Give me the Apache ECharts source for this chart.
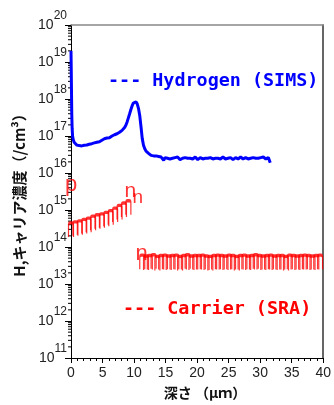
<!DOCTYPE html>
<html>
<head>
<meta charset="utf-8">
<script src="https://cdn.jsdelivr.net/npm/echarts@6/dist/echarts.min.js"></script>
<style>
  html, body { margin: 0; padding: 0; background: #fff; }
  #chart { width: 334px; height: 405px; }
</style>
</head>
<body>
<div id="chart"></div>
<script>
// Hydrogen concentration by SIMS: [depth (um), concentration (/cm3)]
const hydrogenProfile = [
  [0.00, 2.0e19], [0.04, 6e18], [0.08, 1.5e18], [0.12, 4e17], [0.18, 1.6e17], [0.25, 1.0e17],
  [0.35, 8.0e16], [0.5, 6.8e16], [0.7, 6.2e16], [0.9, 5.7e16], [1.1, 5.9e16], [1.3, 5.5e16],
  [1.5, 5.8e16], [1.7, 5.4e16], [1.9, 5.9e16], [2.1, 5.6e16], [2.3, 6.0e16], [2.5, 5.7e16],
  [2.7, 6.1e16], [2.9, 6.0e16], [3.1, 6.4e16], [3.3, 6.2e16], [3.5, 6.6e16], [3.7, 6.5e16],
  [3.9, 6.9e16], [4.1, 6.8e16], [4.3, 7.2e16], [4.5, 7.0e16], [4.7, 7.5e16], [4.9, 7.7e16],
  [5.1, 8.0e16], [5.3, 8.4e16], [5.5, 8.2e16], [5.7, 8.8e16], [5.9, 9.1e16], [6.1, 9.0e16],
  [6.3, 9.6e16], [6.5, 1.0e17], [6.7, 1.04e17], [6.9, 1.08e17], [7.1, 1.12e17], [7.3, 1.15e17],
  [7.5, 1.2e17], [7.7, 1.26e17], [7.9, 1.34e17], [8.1, 1.42e17], [8.3, 1.55e17], [8.5, 1.7e17],
  [8.7, 1.95e17], [8.9, 2.4e17], [9.1, 3.1e17], [9.3, 4.0e17], [9.5, 5.2e17], [9.7, 6.6e17],
  [9.9, 7.8e17], [10.1, 8.5e17], [10.3, 8.4e17], [10.5, 7.4e17], [10.7, 5.6e17], [10.9, 3.6e17],
  [11.1, 1.8e17], [11.3, 8.5e16], [11.5, 5.6e16], [11.7, 4.5e16], [11.9, 3.9e16], [12.1, 3.6e16],
  [12.3, 3.4e16], [12.5, 3.3e16], [12.7, 3.0e16], [12.9, 3.1e16], [13.1, 2.9e16], [13.3, 2.8e16],
  [13.5, 2.9e16], [13.7, 2.7e16], [13.9, 2.8e16], [14.1, 2.6e16], [14.3, 2.7e16], [14.5, 2.5e16],
  [14.7, 2.2e16], [14.9, 2.6e16], [15.1, 2.6e16], [15.3, 2.5e16], [15.5, 2.7e16], [15.7, 2.4e16],
  [15.9, 2.6e16], [16.1, 2.5e16], [16.3, 2.4e16], [16.5, 2.6e16], [16.7, 2.5e16], [16.9, 2.7e16],
  [17.1, 2.5e16], [17.3, 2.3e16], [17.5, 2.6e16], [17.7, 2.5e16], [17.9, 2.4e16], [18.1, 2.6e16],
  [18.3, 2.7e16], [18.5, 2.5e16], [18.7, 2.4e16], [18.9, 2.5e16], [19.1, 2.6e16], [19.3, 2.4e16],
  [19.5, 2.5e16], [19.7, 2.7e16], [19.9, 2.5e16], [20.1, 2.3e16], [20.3, 2.5e16], [20.5, 2.6e16],
  [20.7, 2.5e16], [20.9, 2.4e16], [21.1, 2.6e16], [21.3, 2.5e16], [21.5, 2.7e16], [21.7, 2.5e16],
  [21.9, 2.4e16], [22.1, 2.6e16], [22.3, 2.5e16], [22.5, 2.4e16], [22.7, 2.6e16], [22.9, 2.5e16],
  [23.1, 2.3e16], [23.3, 2.5e16], [23.5, 2.6e16], [23.7, 2.4e16], [23.9, 2.5e16], [24.1, 2.7e16],
  [24.3, 2.5e16], [24.5, 2.4e16], [24.7, 2.6e16], [24.9, 2.5e16], [25.1, 2.5e16], [25.3, 2.6e16],
  [25.5, 2.4e16], [25.7, 2.3e16], [25.9, 2.5e16], [26.1, 2.6e16], [26.3, 2.5e16], [26.5, 2.4e16],
  [26.7, 2.6e16], [26.9, 2.7e16], [27.1, 2.5e16], [27.3, 2.4e16], [27.5, 2.5e16], [27.7, 2.6e16],
  [27.9, 2.5e16], [28.1, 2.4e16], [28.3, 2.6e16], [28.5, 2.5e16], [28.7, 2.7e16], [28.9, 2.6e16],
  [29.1, 2.4e16], [29.3, 2.5e16], [29.5, 2.6e16], [29.7, 2.5e16], [29.9, 2.4e16], [30.1, 2.6e16],
  [30.3, 2.5e16], [30.5, 2.7e16], [30.7, 2.6e16], [30.9, 2.4e16], [31.1, 2.5e16], [31.3, 2.6e16],
  [31.5, 2.4e16], [31.6, 1.9e16]
];

// Carrier concentration by SRA, p-type region near the surface
const carrierDepthP = [0.0, 0.7, 1.4, 2.1, 2.8, 3.5, 4.2, 4.9, 5.6, 6.3, 7.0, 7.7, 8.4, 9.1];
const carrierConcP = [2.9e14, 3.1e14, 3.3e14, 3.6e14, 3.9e14, 4.4e14, 4.8e14, 5.1e14, 5.6e14,
  6.2e14, 7.3e14, 8.6e14, 1.0e15, 1.15e15];

// Carrier concentration by SRA, n-type region below the hydrogen peak
const carrierDepthN = [11.3, 11.9, 12.5, 13.1, 13.7, 14.3, 14.9, 15.5, 16.1, 16.7, 17.3, 17.9,
  18.5, 19.1, 19.7, 20.3, 20.9, 21.5, 22.1, 22.7, 23.3, 23.9, 24.5, 25.1, 25.7, 26.3, 26.9, 27.5,
  28.1, 28.7, 29.3, 29.9, 30.5, 31.1, 31.7, 32.3, 32.9, 33.5, 34.1, 34.7, 35.3, 35.9, 36.5, 37.1,
  37.7, 38.3, 38.9, 39.5];
const carrierConcN = [3.9e13, 3.7e13, 3.8e13, 4.0e13, 3.6e13, 3.8e13, 3.9e13, 3.7e13, 3.8e13,
  3.9e13, 3.6e13, 3.8e13, 4.0e13, 3.7e13, 3.8e13, 3.8e13, 3.9e13, 3.7e13, 3.6e13, 3.8e13, 3.9e13,
  3.8e13, 3.7e13, 3.9e13, 3.8e13, 3.6e13, 3.8e13, 3.9e13, 3.7e13, 3.8e13, 4.0e13, 3.8e13, 3.7e13,
  3.8e13, 3.9e13, 3.7e13, 3.8e13, 3.8e13, 3.6e13, 3.9e13, 3.8e13, 3.7e13, 3.8e13, 3.9e13, 3.8e13,
  3.7e13, 3.8e13, 3.9e13];

// Conduction-type annotations: [depth, concentration, text, font size]
const typeMarks = [
  [0.0, 4.8e15, 'p', 22],
  [9.4, 3.3e15, 'n', 21],
  [10.6, 2.1e15, 'n', 19],
  [11.2, 6.5e13, 'n', 22]
];

const xTicks = [0, 5, 10, 15, 20, 25, 30, 35, 40];
const legendTexts = ['--- Hydrogen (SIMS)', '--- Carrier (SRA)'];

const chart = echarts.init(document.getElementById('chart'), null, { renderer: 'canvas' });

const tickFont = 'Liberation Sans, Arial, sans-serif';
const jpFont = '"Noto Sans CJK JP", sans-serif';
const monoFont = '"DejaVu Sans Mono", monospace';

// log minor ticks at 2..9 of every decade
const minorLogTicks = [];
for (let d = 11; d < 20; d++) {
  for (let k = 2; k <= 9; k++) minorLogTicks.push([0, k * Math.pow(10, d)]);
}

const glyphN = 'path://M0,16 L0,2 Q0,0 2,0 L4,0 Q6,0 6,2 L6,16';

const zip = (a, b) => a.map((v, i) => [v, b[i]]);

chart.setOption({
  animation: false,
  backgroundColor: '#fff',
  grid: { left: 71, right: 2, top: 25, bottom: 37 },
  xAxis: [{
    type: 'value', min: 0, max: 40, interval: 5,
    name: '深さ （μｍ）', nameLocation: 'middle', nameGap: 28,
    nameTextStyle: { fontFamily: jpFont, fontWeight: 'bold', fontSize: 14, color: '#111',
      padding: [0, 0, 0, 16] },
    axisLine: { onZero: false, lineStyle: { color: '#000', width: 1 } },
    axisTick: { length: 5, lineStyle: { color: '#000' } },
    minorTick: { show: true, splitNumber: 5, length: 3, lineStyle: { color: '#000' } },
    splitLine: { show: false },
    axisLabel: {
      margin: 8, fontFamily: tickFont, fontSize: 14, color: '#222',
      formatter: v => xTicks.indexOf(v) >= 0 ? String(v) : ''
    }
  }, {
    type: 'value', min: 0, max: 40, position: 'top',
    axisLine: { show: true, onZero: false, lineStyle: { color: '#888', width: 1.5 } },
    axisTick: { show: false }, axisLabel: { show: false }, splitLine: { show: false }
  }],
  yAxis: [{
    type: 'log', logBase: 10, min: 1e11, max: 1e20, interval: 1,
    name: 'H,キャリア濃度（/cm³）', nameLocation: 'middle', nameGap: 44,
    nameTextStyle: { fontFamily: jpFont, fontWeight: 'bold', fontSize: 15, color: '#111' },
    axisLine: { onZero: false, lineStyle: { color: '#000', width: 1 } },
    axisTick: { length: 6, lineStyle: { color: '#000' } },
    splitLine: { show: false },
    axisLabel: {
      margin: 4,
      formatter: v => '{b|10}{s|' + Math.round(Math.log10(v)) + '}',
      rich: {
        b: { fontFamily: tickFont, fontSize: 14, color: '#222', lineHeight: 30 },
        s: { fontFamily: tickFont, fontSize: 12, color: '#222', lineHeight: 12, verticalAlign: 'top' }
      }
    }
  }, {
    type: 'log', logBase: 10, min: 1e11, max: 1e20, position: 'right',
    axisLine: { show: true, onZero: false, lineStyle: { color: '#333', width: 1.5 } },
    axisTick: { show: false }, axisLabel: { show: false }, splitLine: { show: false }
  }],
  graphic: [
    { type: 'text', left: 108, top: 72,
      style: { text: legendTexts[0], fill: '#0000ff', font: 'bold 18.4px ' + monoFont } },
    { type: 'text', left: 123, top: 300,
      style: { text: legendTexts[1], fill: '#ff0000', font: 'bold 18.4px ' + monoFont } }
  ],
  series: [
    {
      type: 'custom', xAxisIndex: 0, yAxisIndex: 0, clip: false, silent: true,
      data: minorLogTicks,
      renderItem: (params, api) => {
        const p = api.coord([api.value(0), api.value(1)]);
        return { type: 'line', shape: { x1: p[0] - 3, y1: p[1], x2: p[0], y2: p[1] },
          style: { stroke: '#000', lineWidth: 1 } };
      }
    },
    {
      name: 'Hydrogen (SIMS)', type: 'line', data: hydrogenProfile,
      showSymbol: false, symbol: 'none', smooth: false,
      lineStyle: { color: '#0000ff', width: 3 }, z: 3
    },
    {
      name: 'Carrier (SRA) p', type: 'scatter', data: zip(carrierDepthP, carrierConcP),
      symbol: glyphN, symbolSize: [5, 14],
      itemStyle: { color: 'rgba(0,0,0,0)', borderColor: '#ff0000', borderWidth: 2 }, z: 4
    },
    {
      name: 'Carrier (SRA) n', type: 'scatter', data: zip(carrierDepthN, carrierConcN),
      symbol: glyphN, symbolSize: [5, 14],
      itemStyle: { color: 'rgba(0,0,0,0)', borderColor: '#ff0000', borderWidth: 2 }, z: 4
    },
    {
      name: 'type', type: 'scatter', clip: false, symbolSize: 0, z: 5,
      data: typeMarks.map(m => ({ value: [m[0], m[1]], label: { fontSize: m[3] }, name: m[2] })),
      label: {
        show: true, position: 'inside', formatter: p => p.name,
        color: '#ff0000', fontFamily: tickFont
      }
    }
  ]
});
</script>
</body>
</html>
